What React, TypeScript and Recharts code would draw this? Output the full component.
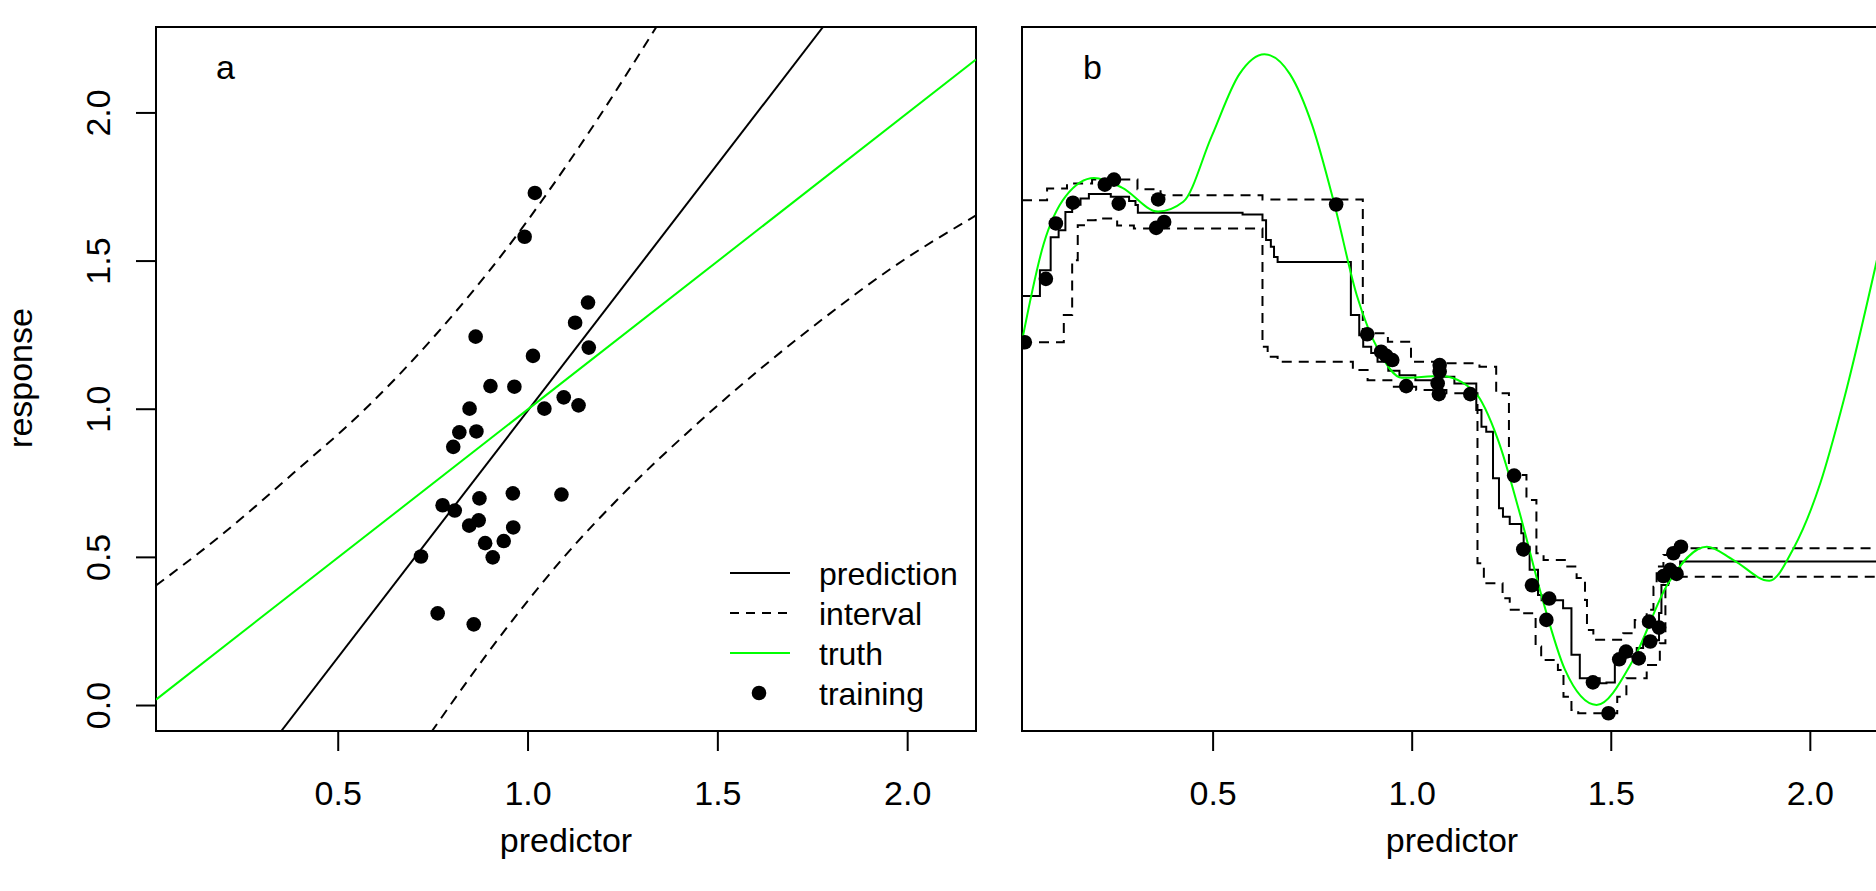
import React from 'react';
import { ComposedChart, Line, Scatter, XAxis, YAxis, ReferenceArea } from 'recharts';

const FONT = '"Liberation Sans", Arial, Helvetica, sans-serif';
const GREEN = '#00ff00';

const xDomain: [number, number] = [0.02, 2.18];
const yDomain: [number, number] = [-0.086, 2.29];
const xTicks = [0.5, 1.0, 1.5, 2.0];
const yTicks = [0, 0.5, 1.0, 1.5, 2.0];

// panel a: linear fit
const trainA: [number, number][] = [
  [1.018, 1.73], [0.991, 1.582], [1.158, 1.36], [1.124, 1.292], [1.16, 1.208],
  [0.862, 1.245], [1.013, 1.18], [0.901, 1.078], [0.964, 1.076], [0.846, 1.002],
  [1.043, 1.002], [1.094, 1.04], [1.133, 1.013], [0.819, 0.922], [0.864, 0.925],
  [0.803, 0.873], [0.96, 0.716], [1.088, 0.712], [0.872, 0.699], [0.775, 0.676],
  [0.807, 0.658], [0.87, 0.625], [0.845, 0.607], [0.961, 0.601], [0.887, 0.548],
  [0.936, 0.555], [0.907, 0.5], [0.718, 0.503], [0.762, 0.311], [0.857, 0.274],
];
const predA: [number, number][] = [[0.35, -0.086], [1.777, 2.29]];
const truthA: [number, number][] = [[0.02, 0.02], [2.18, 2.18]];
const upperA: [number, number][] = [
  [0.02, 0.405], [0.191, 0.574], [0.38, 0.782], [0.569, 0.998],
  [0.758, 1.253], [0.946, 1.546], [1.135, 1.886], [1.338, 2.29],
];
const lowerA: [number, number][] = [
  [0.745, -0.09], [0.946, 0.266], [1.094, 0.5], [1.261, 0.728], [1.436, 0.94],
  [1.611, 1.135], [1.787, 1.315], [1.962, 1.48], [2.18, 1.654],
];

// panel b: step fit
const trainB: [number, number][] = [
  [0.027, 1.226], [0.08, 1.44], [0.105, 1.627], [0.148, 1.697], [0.228, 1.758],
  [0.251, 1.775], [0.263, 1.694], [0.362, 1.708], [0.357, 1.612], [0.377, 1.632],
  [0.809, 1.691], [0.887, 1.253], [0.922, 1.194], [0.935, 1.18], [0.95, 1.166],
  [0.985, 1.078], [1.069, 1.149], [1.069, 1.127], [1.064, 1.087], [1.067, 1.051],
  [1.146, 1.051], [1.256, 0.776], [1.279, 0.527], [1.301, 0.406], [1.344, 0.361],
  [1.337, 0.289], [1.454, 0.078], [1.493, -0.026], [1.52, 0.156], [1.537, 0.182],
  [1.569, 0.159], [1.598, 0.216], [1.595, 0.283], [1.62, 0.263], [1.631, 0.437],
  [1.664, 0.444], [1.648, 0.458], [1.656, 0.514], [1.675, 0.536],
];
const predB: [number, number][] = [
  [0.02, 1.382], [0.065, 1.469], [0.092, 1.58], [0.112, 1.604], [0.129, 1.666],
  [0.146, 1.69], [0.167, 1.711], [0.188, 1.726], [0.243, 1.717], [0.289, 1.703],
  [0.305, 1.689], [0.311, 1.663], [0.574, 1.657], [0.624, 1.638], [0.633, 1.571],
  [0.645, 1.548], [0.653, 1.514], [0.662, 1.497], [0.846, 1.318], [0.867, 1.25],
  [0.877, 1.211], [0.897, 1.19], [0.913, 1.16], [0.94, 1.13], [0.968, 1.115],
  [1.008, 1.098], [1.06, 1.11], [1.106, 1.087], [1.161, 0.997], [1.174, 0.941],
  [1.186, 0.924], [1.203, 0.767], [1.218, 0.666], [1.228, 0.637], [1.245, 0.613],
  [1.274, 0.581], [1.28, 0.536], [1.295, 0.458], [1.316, 0.373], [1.325, 0.355],
  [1.379, 0.328], [1.4, 0.171], [1.421, 0.092], [1.471, 0.075], [1.488, 0.078],
  [1.509, 0.165], [1.564, 0.194], [1.58, 0.22], [1.62, 0.312], [1.626, 0.407],
  [1.643, 0.463], [1.673, 0.486], [2.18, 0.486],
];
const upperB: [number, number][] = [
  [0.02, 1.705], [0.083, 1.745], [0.133, 1.762], [0.196, 1.775], [0.31, 1.742],
  [0.368, 1.722], [0.624, 1.708], [0.876, 1.256], [0.939, 1.228], [0.997, 1.16],
  [1.077, 1.155], [1.169, 1.143], [1.211, 1.054], [1.243, 0.778], [1.287, 0.694],
  [1.312, 0.514], [1.33, 0.491], [1.387, 0.469], [1.413, 0.43], [1.434, 0.356],
  [1.439, 0.255], [1.455, 0.222], [1.53, 0.244], [1.559, 0.289], [1.589, 0.323],
  [1.606, 0.401], [1.614, 0.469], [1.631, 0.508], [1.643, 0.531], [2.18, 0.531],
];
const lowerB: [number, number][] = [
  [0.02, 1.226], [0.125, 1.318], [0.146, 1.503], [0.16, 1.621], [0.18, 1.638],
  [0.205, 1.644], [0.259, 1.62], [0.301, 1.61], [0.624, 1.211], [0.637, 1.177],
  [0.662, 1.16], [0.851, 1.132], [0.888, 1.098], [0.951, 1.076], [1.01, 1.065],
  [1.086, 1.054], [1.164, 0.48], [1.18, 0.413], [1.227, 0.362], [1.245, 0.323],
  [1.273, 0.311], [1.31, 0.199], [1.324, 0.154], [1.366, 0.12], [1.38, 0.03],
  [1.4, -0.015], [1.417, -0.026], [1.515, 0.03], [1.538, 0.092], [1.589, 0.137],
  [1.622, 0.21], [1.636, 0.413], [1.645, 0.435], [2.18, 0.435],
];
const truthB: [number, number][] = [
  [0.02, 1.23], [0.074, 1.556], [0.13, 1.719], [0.201, 1.78], [0.271, 1.748],
  [0.362, 1.667], [0.425, 1.7], [0.496, 1.92], [0.566, 2.131], [0.629, 2.198],
  [0.693, 2.131], [0.749, 1.958], [0.805, 1.69], [0.861, 1.384], [0.918, 1.192],
  [0.974, 1.106], [1.072, 1.112], [1.157, 1.058], [1.216, 0.895], [1.269, 0.655],
  [1.325, 0.37], [1.384, 0.12], [1.463, 0.002], [1.555, 0.154], [1.642, 0.41],
  [1.74, 0.536], [1.807, 0.491], [1.897, 0.421], [1.958, 0.531], [2.025, 0.75],
  [2.084, 1.031], [2.18, 1.58],
];

const pts = (a: [number, number][]) => a.map(([x, y]) => ({ x, y }));

const XTick = (p: any) => (
  <text x={p.x} y={p.y + 54} textAnchor="middle" fontSize={34} fontFamily={FONT} fill="#000">
    {Number(p.payload.value).toFixed(1)}
  </text>
);

const YTick = (p: any) => (
  <text
    x={p.x - 26}
    y={p.y}
    transform={`rotate(-90 ${p.x - 26} ${p.y})`}
    textAnchor="middle"
    fontSize={34}
    fontFamily={FONT}
    fill="#000"
  >
    {Number(p.payload.value).toFixed(1)}
  </text>
);

const Dot = (p: any) => <circle cx={p.cx} cy={p.cy} r={7.3} fill="#000" />;

const dash = '10 7';

const Panel = ({ kind }: { kind: 'a' | 'b' }) => {
  const isA = kind === 'a';
  return (
    <ComposedChart
      width={isA ? 1000 : 900}
      height={891}
      margin={isA ? { top: 27, right: 24, bottom: 100, left: 76 } : { top: 27, right: 18, bottom: 100, left: 22 }}
    >
      <XAxis
        type="number"
        dataKey="x"
        domain={xDomain}
        allowDataOverflow
        ticks={xTicks}
        interval={0}
        height={60}
        axisLine={false}
        tickLine={{ stroke: '#000', strokeWidth: 2 }}
        tickSize={20}
        tickMargin={0}
        tick={XTick}
      />
      {isA ? (
        <YAxis
          type="number"
          dataKey="y"
          domain={yDomain}
          allowDataOverflow
          ticks={yTicks}
          interval={0}
          width={80}
          axisLine={false}
          tickLine={{ stroke: '#000', strokeWidth: 2 }}
          tickSize={20}
          tickMargin={0}
          tick={YTick}
        />
      ) : (
        <YAxis type="number" dataKey="y" domain={yDomain} allowDataOverflow hide />
      )}
      <ReferenceArea
        x1={xDomain[0]}
        x2={xDomain[1]}
        y1={yDomain[0]}
        y2={yDomain[1]}
        fill="none"
        stroke="#000"
        strokeWidth={2}
        ifOverflow="visible"
      />
      {isA ? (
        <>
          <Line data={pts(upperA)} dataKey="y" type="monotone" stroke="#000" strokeWidth={2} strokeDasharray={dash} dot={false} activeDot={false} isAnimationActive={false} />
          <Line data={pts(lowerA)} dataKey="y" type="monotone" stroke="#000" strokeWidth={2} strokeDasharray={dash} dot={false} activeDot={false} isAnimationActive={false} />
          <Line data={pts(predA)} dataKey="y" type="linear" stroke="#000" strokeWidth={2} dot={false} activeDot={false} isAnimationActive={false} />
          <Line data={pts(truthA)} dataKey="y" type="linear" stroke={GREEN} strokeWidth={2} dot={false} activeDot={false} isAnimationActive={false} />
          <Scatter data={pts(trainA)} dataKey="y" shape={Dot} isAnimationActive={false} />
        </>
      ) : (
        <>
          <Line data={pts(upperB)} dataKey="y" type="stepAfter" stroke="#000" strokeWidth={2} strokeDasharray={dash} dot={false} activeDot={false} isAnimationActive={false} />
          <Line data={pts(lowerB)} dataKey="y" type="stepAfter" stroke="#000" strokeWidth={2} strokeDasharray={dash} dot={false} activeDot={false} isAnimationActive={false} />
          <Line data={pts(predB)} dataKey="y" type="stepAfter" stroke="#000" strokeWidth={2} dot={false} activeDot={false} isAnimationActive={false} />
          <Line data={pts(truthB)} dataKey="y" type="monotone" stroke={GREEN} strokeWidth={2} dot={false} activeDot={false} isAnimationActive={false} />
          <Scatter data={pts(trainB)} dataKey="y" shape={Dot} isAnimationActive={false} />
        </>
      )}
    </ComposedChart>
  );
};

const legendRows = [
  { label: 'prediction', kind: 'solid' },
  { label: 'interval', kind: 'dashed' },
  { label: 'truth', kind: 'green' },
  { label: 'training', kind: 'dot' },
];

const Overlay = () => (
  <svg width={1876} height={891} style={{ position: 'absolute', left: 0, top: 0, pointerEvents: 'none' }}>
    <g fontFamily={FONT} fontSize={34} fill="#000">
      <text x={216} y={79}>a</text>
      <text x={1083} y={79}>b</text>
      <text x={32} y={378} transform="rotate(-90 32 378)" textAnchor="middle">response</text>
      <text x={566} y={852} textAnchor="middle">predictor</text>
      <text x={1452} y={852} textAnchor="middle">predictor</text>
    </g>
    <g fontFamily={FONT} fontSize={32} fill="#000">
      {legendRows.map((r, i) => {
        const cy = 573 + i * 40;
        return (
          <g key={r.label}>
            {r.kind === 'dot' ? (
              <circle cx={759} cy={cy} r={7.3} fill="#000" />
            ) : (
              <line
                x1={730}
                x2={790}
                y1={cy}
                y2={cy}
                stroke={r.kind === 'green' ? GREEN : '#000'}
                strokeWidth={2}
                strokeDasharray={r.kind === 'dashed' ? '9 7' : undefined}
              />
            )}
            <text x={819} y={cy + 12}>{r.label}</text>
          </g>
        );
      })}
    </g>
  </svg>
);

export default function App() {
  return (
    <div style={{ position: 'absolute', left: 0, top: 0, width: 1876, height: 891, overflow: 'hidden', background: '#fff' }}>
      <div style={{ position: 'absolute', left: 0, top: 0 }}>
        <Panel kind="a" />
      </div>
      <div style={{ position: 'absolute', left: 1000, top: 0 }}>
        <Panel kind="b" />
      </div>
      <Overlay />
    </div>
  );
}
